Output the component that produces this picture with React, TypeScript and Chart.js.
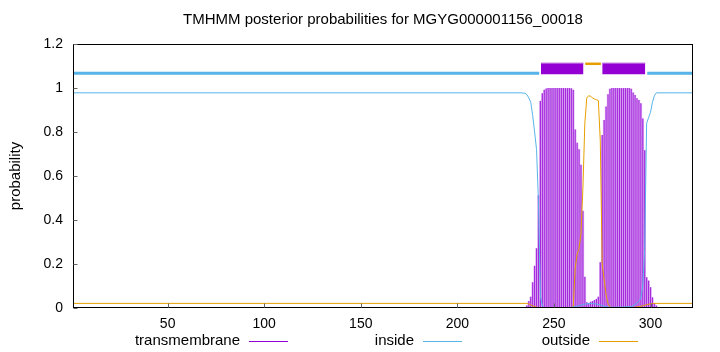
import React, { useEffect, useRef } from "react";
import { Chart, registerables } from "chart.js";

Chart.register(...registerables);

const TITLE = "TMHMM posterior probabilities for MGYG000001156_00018";
const Y_LABEL = "probability";
const SEQ_START = 1;
const SEQ_END = 322;
const X_TICKS = [50, 100, 150, 200, 250, 300];
const Y_TICKS = [0, 0.2, 0.4, 0.6, 0.8, 1, 1.2];

const PURPLE = "#9400d3";
const BLUE = "#56b4e9";
const ORANGE = "#e69f00";

// transmembrane posterior probability per residue (impulses)
const TM_RESIDUES = [
  236, 237, 238, 239, 240, 241, 242, 243, 244, 245,
  246, 247, 248, 249, 250, 251, 252, 253, 254, 255,
  256, 257, 258, 259, 260, 261, 262, 263, 264, 265,
  266, 267, 268, 269, 270, 271, 272, 273, 274, 275,
  276, 277, 278, 279, 280, 281, 282, 283, 284, 285,
  286, 287, 288, 289, 290, 291, 292, 293, 294, 295,
  296, 297, 298, 299, 300, 301, 302, 303,
];
const TM_PROB = [
  0.01, 0.03, 0.05, 0.115, 0.19, 0.27, 0.51, 0.94, 0.975, 0.99,
  0.996, 0.998, 0.998, 0.998, 0.998, 0.998, 0.998, 0.998, 0.998, 0.998,
  0.998, 0.998, 0.998, 0.997, 0.99, 0.81, 0.75, 0.72, 0.65, 0.44,
  0.14, 0.025, 0.02, 0.027, 0.03, 0.035, 0.04, 0.05, 0.207, 0.785,
  0.853, 0.914, 0.97, 0.995, 0.998, 0.998, 0.998, 0.998, 0.998, 0.998,
  0.998, 0.998, 0.998, 0.998, 0.995, 0.978, 0.967, 0.952, 0.944, 0.929,
  0.86, 0.716, 0.138, 0.123, 0.093, 0.047, 0.02, 0.01,
];

// inside probability
const INSIDE_X = [
  1, 233, 235, 236, 237, 238, 239, 240, 241, 242, 243, 244, 245, 250,
  258, 260, 262, 264, 266, 268, 270, 272, 274, 276, 278, 280, 285, 290,
  292, 294, 295, 296, 297, 298, 299, 300, 301, 302, 303, 322,
];
const INSIDE_Y = [
  0.978, 0.978, 0.976, 0.97, 0.955, 0.935, 0.875, 0.8, 0.72, 0.48, 0.055, 0.01, 0.002, 0.001,
  0.002, 0.004, 0.008, 0.013, 0.018, 0.02, 0.02, 0.018, 0.014, 0.008, 0.004, 0.003, 0.004, 0.006,
  0.015, 0.03, 0.045, 0.1, 0.27, 0.84, 0.865, 0.89, 0.935, 0.965, 0.978, 0.978,
];

// outside probability
const OUTSIDE_X = [
  1, 236, 237, 238, 239, 240, 241, 242, 243, 244, 258, 260, 261, 262,
  263, 264, 265, 266, 267, 268, 269, 270, 271, 272, 273, 274, 275, 276,
  277, 278, 279, 280, 290, 294, 296, 298, 300, 301, 322,
];
const OUTSIDE_Y = [
  0.021, 0.021, 0.018, 0.014, 0.01, 0.007, 0.004, 0.002, 0.001, 0, 0, 0.005, 0.18, 0.245,
  0.27, 0.34, 0.545, 0.84, 0.955, 0.965, 0.962, 0.955, 0.95, 0.947, 0.943, 0.76, 0.2, 0.13,
  0.06, 0.02, 0.005, 0.002, 0.001, 0.006, 0.01, 0.015, 0.019, 0.021, 0.021,
];

// predicted topology drawn above the curves
const INSIDE_SEGMENTS = [
  [1, 242.4],
  [298.3, 322],
];
const TM_SEGMENTS = [
  [243.3, 265.3],
  [275.0, 297.3],
];
const OUTSIDE_SEGMENTS = [[266.2, 274.3]];
const INSIDE_BAR_Y = 1.067;
const OUTSIDE_BAR_Y = 1.11;
const TM_BOX_LOW = 1.063;
const TM_BOX_HIGH = 1.113;

const LEGEND_LABELS = ["transmembrane", "inside", "outside"];
const LEGEND_COLORS = [PURPLE, BLUE, ORANGE];

const FONT = "'Liberation Sans', Arial, Helvetica, sans-serif";

const decorPlugin = {
  id: "decor",
  afterDraw(chart: any) {
    const { ctx, chartArea: a, scales } = chart;
    ctx.save();
    // border
    ctx.strokeStyle = "#000";
    ctx.lineWidth = 1;
    const l = Math.round(a.left) + 0.5;
    const t = Math.round(a.top) + 0.5;
    const r = Math.round(a.right) - 0.5;
    const b = Math.round(a.bottom) - 0.5;
    ctx.strokeRect(l, t, r - l, b - t);
    // inward ticks
    ctx.strokeStyle = "#666";
    ctx.beginPath();
    X_TICKS.forEach((v) => {
      const px = Math.round(scales.x.getPixelForValue(v)) + 0.5;
      ctx.moveTo(px, b);
      ctx.lineTo(px, b - 4);
    });
    Y_TICKS.forEach((v) => {
      const py = Math.round(scales.y.getPixelForValue(v)) + 0.5;
      ctx.moveTo(l, py);
      ctx.lineTo(l + 4, py);
    });
    ctx.stroke();

    ctx.fillStyle = "#000";
    // title
    ctx.font = `15px ${FONT}`;
    ctx.textAlign = "center";
    ctx.textBaseline = "middle";
    ctx.fillText(TITLE, (a.left + a.right) / 2, 20);
    // y label
    ctx.save();
    ctx.translate(16, (a.top + a.bottom) / 2);
    ctx.rotate(-Math.PI / 2);
    ctx.fillText(Y_LABEL, 0, 0);
    ctx.restore();
    // legend
    const textEnds = [240, 414, 590];
    ctx.textAlign = "right";
    LEGEND_LABELS.forEach((lab, i) => {
      const y = 341;
      ctx.fillStyle = "#000";
      ctx.fillText(lab, textEnds[i], y);
      ctx.strokeStyle = LEGEND_COLORS[i];
      ctx.lineWidth = 1;
      ctx.beginPath();
      ctx.moveTo(textEnds[i] + 9, y + 0.5);
      ctx.lineTo(textEnds[i] + 48, y + 0.5);
      ctx.stroke();
    });
    ctx.restore();
  },
};

export default function App() {
  const ref = useRef<HTMLCanvasElement>(null);
  useEffect(() => {
    if (!ref.current) return;
    const pts = (xs: number[], ys: number[]) => xs.map((x, i) => ({ x, y: ys[i] }));
    const segLine = (segs: number[][], y: number) => {
      const out: any[] = [];
      segs.forEach((s, i) => {
        if (i > 0) out.push({ x: (segs[i - 1][1] + s[0]) / 2, y: null });
        out.push({ x: s[0], y }, { x: s[1], y });
      });
      return out;
    };
    const tmData = pts(TM_RESIDUES, TM_PROB);
    const lineBase = {
      type: "line" as const,
      pointRadius: 0,
      tension: 0,
      fill: false,
      borderWidth: 1,
    };
    const datasets: any[] = [
      {
        ...lineBase,
        label: "inside",
        data: pts(INSIDE_X, INSIDE_Y),
        borderColor: BLUE,
        order: 0,
      },
      {
        ...lineBase,
        label: "outside",
        data: pts(OUTSIDE_X, OUTSIDE_Y),
        borderColor: ORANGE,
        order: 0,
      },
      {
        ...lineBase,
        label: "inside-bar",
        data: segLine(INSIDE_SEGMENTS, INSIDE_BAR_Y),
        borderColor: BLUE,
        borderWidth: 3,
        order: 0,
      },
      {
        ...lineBase,
        label: "outside-bar",
        data: segLine(OUTSIDE_SEGMENTS, OUTSIDE_BAR_Y),
        borderColor: ORANGE,
        borderWidth: 2.5,
        order: 0,
      },
      ...TM_SEGMENTS.map((s) => ({
        ...lineBase,
        label: "tm-box",
        data: [
          { x: s[0], y: TM_BOX_HIGH },
          { x: s[1], y: TM_BOX_HIGH },
        ],
        borderColor: "#b860e0",
        backgroundColor: PURPLE,
        fill: { value: TM_BOX_LOW },
        order: 0,
      })),
      {
        type: "bar",
        label: "transmembrane",
        data: tmData,
        backgroundColor: "#a52ade",
        barThickness: 0.55,
        grouped: false,
        order: 1,
      },
      {
        type: "bar",
        label: "tm-under",
        data: tmData,
        backgroundColor: "#e4bff5",
        barThickness: 1.93,
        grouped: false,
        order: 2,
      },
    ];

    const chart = new Chart(ref.current, {
      type: "line",
      data: { datasets },
      options: {
        animation: false,
        responsive: true,
        maintainAspectRatio: false,
        layout: { padding: { top: 44, right: 27, left: 0, bottom: 0 } },
        plugins: {
          legend: { display: false },
          tooltip: { enabled: false },
          title: { display: false },
        },
        scales: {
          x: {
            type: "linear",
            min: SEQ_START,
            max: SEQ_END,
            offset: false,
            grid: { display: false, drawTicks: false },
            border: { display: false },
            afterBuildTicks: (scale: any) => {
              scale.ticks = X_TICKS.map((v) => ({ value: v }));
            },
            afterFit: (scale: any) => {
              scale.height = 44;
            },
            ticks: {
              autoSkip: false,
              maxRotation: 0,
              padding: 8,
              color: "#000",
              font: { family: FONT, size: 14 },
              callback: (v: any) => String(v),
            },
          },
          y: {
            type: "linear",
            min: 0,
            max: 1.2,
            grid: { display: false, drawTicks: false },
            border: { display: false },
            afterBuildTicks: (scale: any) => {
              scale.ticks = Y_TICKS.map((v) => ({ value: v }));
            },
            afterFit: (scale: any) => {
              scale.width = 73;
            },
            ticks: {
              padding: 10,
              color: "#000",
              font: { family: FONT, size: 14 },
              callback: (v: any) => String(v),
            },
          },
        },
      },
      plugins: [decorPlugin],
    } as any);
    return () => chart.destroy();
  }, []);
  return (
    <div
      style={{
        position: "fixed",
        left: 0,
        top: 0,
        width: 720,
        height: 352,
        background: "#fff",
      }}
    >
      <canvas ref={ref} />
    </div>
  );
}
